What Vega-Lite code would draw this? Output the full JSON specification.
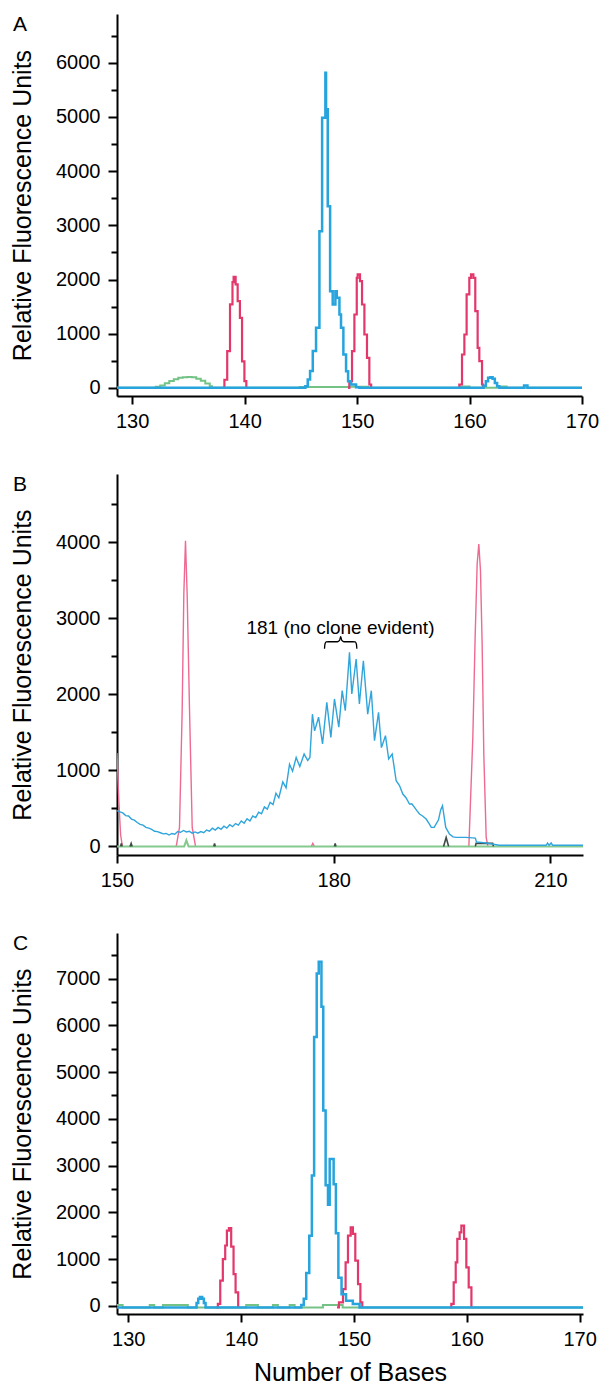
{
  "$schema": "https://vega.github.io/schema/vega-lite/v6.json",
  "padding": {"left": 10, "top": 14, "right": 5, "bottom": 0},
  "background": "white",
  "bounds": "flush",
  "spacing": 78,
  "config": {
    "font": "Liberation Sans",
    "view": {"stroke": null},
    "axis": {"domainColor": "black", "domainWidth": 2, "tickColor": "black", "tickWidth": 2, "labelColor": "black", "labelFont": "Liberation Sans", "labelFontSize": 20, "titleFont": "Liberation Sans", "titleFontSize": 25, "titleFontWeight": "normal", "titleColor": "black", "grid": false, "labelFlush": false, "labelOverlap": false},
    "title": {"font": "Liberation Sans", "fontSize": 21, "fontWeight": "normal", "color": "black", "anchor": "start", "frame": "group", "offset": 0, "baseline": "alphabetic", "dx": -104, "dy": 25}
  },
  "datasets": {
    "A_green": [
      {"x":128.65,"v":0},{"x":132.1,"v":20},{"x":132.5,"v":45},{"x":132.9,"v":85},{"x":133.3,"v":125},{"x":133.7,"v":160},{"x":134.1,"v":185},{"x":134.5,"v":197},{"x":134.9,"v":200},{"x":135.3,"v":195},{"x":135.7,"v":170},{"x":136.1,"v":130},{"x":136.5,"v":80},{"x":136.9,"v":30},{"x":137.1,"v":0},{"x":144.9,"v":15},{"x":149.3,"v":20},{"x":151.0,"v":0},{"x":159.2,"v":25},{"x":160.0,"v":0},{"x":162.5,"v":25},{"x":163.3,"v":0},{"x":170,"v":0}
    ],
    "A_red": [
      {"x":138.05,"v":0,"g":1},{"x":138.2,"v":150,"g":1},{"x":138.45,"v":680,"g":1},{"x":138.7,"v":1540,"g":1},{"x":138.92,"v":1950,"g":1},{"x":139.02,"v":2050,"g":1},{"x":139.2,"v":1910,"g":1},{"x":139.38,"v":1600,"g":1},{"x":139.58,"v":1290,"g":1},{"x":139.77,"v":490,"g":1},{"x":139.98,"v":124,"g":1},{"x":140.15,"v":0,"g":1},
      {"x":149.2,"v":0,"g":2},{"x":149.31,"v":124,"g":2},{"x":149.55,"v":677,"g":2},{"x":149.76,"v":1354,"g":2},{"x":149.97,"v":2031,"g":2},{"x":150.05,"v":2093,"g":2},{"x":150.26,"v":1970,"g":2},{"x":150.44,"v":1539,"g":2},{"x":150.65,"v":985,"g":2},{"x":150.88,"v":554,"g":2},{"x":151.09,"v":62,"g":2},{"x":151.25,"v":0,"g":2},
      {"x":159.0,"v":0,"g":3},{"x":159.09,"v":62,"g":3},{"x":159.33,"v":616,"g":3},{"x":159.54,"v":985,"g":3},{"x":159.74,"v":1724,"g":3},{"x":159.98,"v":2031,"g":3},{"x":160.13,"v":2093,"g":3},{"x":160.34,"v":2031,"g":3},{"x":160.51,"v":1416,"g":3},{"x":160.72,"v":739,"g":3},{"x":160.87,"v":493,"g":3},{"x":161.11,"v":62,"g":3},{"x":161.2,"v":0,"g":3}
    ],
    "A_blue": [
      {"x":128.65,"v":0},{"x":145.4,"v":30},{"x":145.61,"v":155},{"x":145.82,"v":310},{"x":146.06,"v":680},{"x":146.35,"v":1110},{"x":146.65,"v":2890},{"x":146.89,"v":4985},{"x":147.18,"v":5816},{"x":147.24,"v":5140},{"x":147.39,"v":3354},{"x":147.6,"v":1785},{"x":147.83,"v":1540},{"x":148.07,"v":1785},{"x":148.19,"v":1662},{"x":148.43,"v":1355},{"x":148.57,"v":1109},{"x":148.78,"v":616},{"x":149.02,"v":309},{"x":149.2,"v":124},{"x":149.46,"v":62},{"x":149.91,"v":13},{"x":150.2,"v":0},{"x":161.25,"v":40},{"x":161.45,"v":120},{"x":161.65,"v":185},{"x":161.85,"v":197},{"x":162.05,"v":170},{"x":162.25,"v":90},{"x":162.45,"v":30},{"x":162.65,"v":0},{"x":164.85,"v":45},{"x":165.15,"v":0},{"x":170,"v":0}
    ],
    "B_red": [
      {"x":150.0,"v":1230,"g":1},{"x":150.25,"v":600,"g":1},{"x":150.5,"v":150,"g":1},{"x":150.75,"v":0,"g":1},
      {"x":158.2,"v":0,"g":2},{"x":158.65,"v":250,"g":2},{"x":159.02,"v":1785,"g":2},{"x":159.25,"v":3320,"g":2},{"x":159.48,"v":4020,"g":2},{"x":159.71,"v":3320,"g":2},{"x":160.04,"v":1785,"g":2},{"x":160.41,"v":250,"g":2},{"x":160.87,"v":0,"g":2},
      {"x":176.9,"v":0,"g":3},{"x":177.1,"v":40,"g":3},{"x":177.3,"v":0,"g":3},
      {"x":198.7,"v":0,"g":4},{"x":199.25,"v":1434,"g":4},{"x":199.57,"v":2750,"g":4},{"x":199.85,"v":3715,"g":4},{"x":200.08,"v":3978,"g":4},{"x":200.31,"v":3627,"g":4},{"x":200.54,"v":2662,"g":4},{"x":200.77,"v":1215,"g":4},{"x":201.1,"v":118,"g":4},{"x":201.33,"v":0,"g":4}
    ],
    "B_green": [
      {"x":150.0,"v":0},{"x":159.3,"v":0},{"x":159.6,"v":80},{"x":159.9,"v":0},{"x":214.5,"v":0}
    ],
    "B_dark": [
      {"x":150.5,"v":0,"g":1},{"x":150.6,"v":40,"g":1},{"x":150.7,"v":0,"g":1},
      {"x":151.8,"v":0,"g":2},{"x":151.96,"v":40,"g":2},{"x":152.1,"v":0,"g":2},
      {"x":163.4,"v":0,"g":3},{"x":163.5,"v":40,"g":3},{"x":163.6,"v":0,"g":3},
      {"x":180.1,"v":0,"g":4},{"x":180.2,"v":40,"g":4},{"x":180.3,"v":0,"g":4},
      {"x":195.2,"v":0,"g":5},{"x":195.56,"v":118,"g":5},{"x":195.9,"v":0,"g":5},
      {"x":199.6,"v":0,"g":6},{"x":199.7,"v":40,"g":6},{"x":202.0,"v":40,"g":6},{"x":202.1,"v":0,"g":6}
    ],
    "B_blue": [
      {"x":150.0,"v":470},{"x":150.4,"v":455},{"x":150.8,"v":440},{"x":151.2,"v":405},{"x":151.6,"v":400},{"x":152.0,"v":360},{"x":152.4,"v":345},{"x":152.8,"v":315},{"x":153.2,"v":290},{"x":153.6,"v":280},{"x":154.0,"v":250},{"x":154.4,"v":240},{"x":154.8,"v":225},{"x":155.2,"v":200},{"x":155.6,"v":195},{"x":156.0,"v":180},{"x":156.4,"v":165},{"x":156.8,"v":170},{"x":157.2,"v":150},{"x":157.6,"v":170},{"x":158.0,"v":160},{"x":158.4,"v":195},{"x":158.8,"v":185},{"x":159.2,"v":210},{"x":159.6,"v":190},{"x":160.0,"v":200},{"x":160.4,"v":175},{"x":160.8,"v":190},{"x":161.2,"v":175},{"x":161.6,"v":195},{"x":162.0,"v":180},{"x":162.4,"v":215},{"x":162.8,"v":200},{"x":163.2,"v":240},{"x":163.6,"v":215},{"x":164.0,"v":250},{"x":164.4,"v":225},{"x":164.8,"v":265},{"x":165.2,"v":240},{"x":165.6,"v":285},{"x":166.0,"v":260},{"x":166.4,"v":300},{"x":166.8,"v":280},{"x":167.2,"v":335},{"x":167.6,"v":305},{"x":168.0,"v":365},{"x":168.4,"v":335},{"x":168.8,"v":400},{"x":169.2,"v":380},{"x":169.6,"v":450},{"x":170.0,"v":430},{"x":170.4,"v":520},{"x":170.8,"v":490},{"x":171.2,"v":580},{"x":171.6,"v":550},{"x":172.0,"v":700},{"x":172.4,"v":640},{"x":172.95,"v":850},{"x":173.4,"v":770},{"x":173.88,"v":1080},{"x":174.3,"v":990},{"x":174.8,"v":1170},{"x":175.3,"v":1050},{"x":175.9,"v":1215},{"x":176.4,"v":1130},{"x":176.7,"v":1170},{"x":177.05,"v":1740},{"x":177.35,"v":1520},{"x":177.9,"v":1700},{"x":178.45,"v":1350},{"x":179.04,"v":1895},{"x":179.6,"v":1435},{"x":180.1,"v":1940},{"x":180.7,"v":1570},{"x":181.17,"v":2050},{"x":181.6,"v":1785},{"x":182.18,"v":2553},{"x":182.5,"v":2005},{"x":183.1,"v":2465},{"x":183.55,"v":1873},{"x":184.1,"v":2443},{"x":184.7,"v":1741},{"x":185.2,"v":2049},{"x":185.64,"v":1391},{"x":186.2,"v":1764},{"x":186.6,"v":1300},{"x":187.16,"v":1457},{"x":187.6,"v":1150},{"x":188.09,"v":1216},{"x":188.64,"v":864},{"x":189.1,"v":800},{"x":189.56,"v":689},{"x":190.0,"v":640},{"x":190.48,"v":557},{"x":190.8,"v":560},{"x":191.18,"v":513},{"x":191.5,"v":470},{"x":191.87,"v":426},{"x":192.3,"v":400},{"x":192.79,"v":360},{"x":193.2,"v":300},{"x":193.5,"v":250},{"x":193.9,"v":250},{"x":194.5,"v":350},{"x":194.8,"v":480},{"x":195.05,"v":535},{"x":195.3,"v":380},{"x":195.5,"v":250},{"x":196.02,"v":163},{"x":196.5,"v":125},{"x":196.95,"v":119},{"x":198.3,"v":119},{"x":199.6,"v":110},{"x":199.75,"v":60},{"x":201.1,"v":45},{"x":202.9,"v":15},{"x":209.4,"v":15},{"x":209.6,"v":45},{"x":209.8,"v":15},{"x":210.1,"v":45},{"x":210.3,"v":15},{"x":214.5,"v":15}
    ],
    "B_brace": [
      {"x":178.72,"v":2600},{"x":178.78,"v":2660},{"x":178.95,"v":2690},{"x":179.3,"v":2693},{"x":180.5,"v":2693},{"x":180.8,"v":2710},{"x":180.96,"v":2760},{"x":181.12,"v":2710},{"x":181.42,"v":2693},{"x":182.6,"v":2693},{"x":182.97,"v":2690},{"x":183.14,"v":2660},{"x":183.2,"v":2600}
    ],
    "B_text": [
      {"x":180.93,"v":2880,"label":"181 (no clone evident)"}
    ],
    "C_green": [
      {"x":129.0,"v":15},{"x":129.5,"v":-35},{"x":131.9,"v":15},{"x":132.3,"v":-35},{"x":133.07,"v":15},{"x":135.28,"v":-35},{"x":140.45,"v":15},{"x":141.49,"v":-35},{"x":142.82,"v":15},{"x":143.26,"v":-35},{"x":144.3,"v":15},{"x":144.74,"v":-35},{"x":147.25,"v":15},{"x":149.0,"v":-35},{"x":170.3,"v":-35}
    ],
    "C_red": [
      {"x":137.8,"v":-35,"g":1},{"x":137.94,"v":40,"g":1},{"x":138.15,"v":540,"g":1},{"x":138.38,"v":1000,"g":1},{"x":138.59,"v":1290,"g":1},{"x":138.74,"v":1610,"g":1},{"x":138.92,"v":1665,"g":1},{"x":139.12,"v":1265,"g":1},{"x":139.33,"v":680,"g":1},{"x":139.51,"v":286,"g":1},{"x":139.74,"v":-35,"g":1},
      {"x":148.5,"v":-35,"g":2},{"x":148.67,"v":72,"g":2},{"x":149.03,"v":358,"g":2},{"x":149.26,"v":930,"g":2},{"x":149.47,"v":1500,"g":2},{"x":149.71,"v":1680,"g":2},{"x":149.91,"v":1537,"g":2},{"x":150.12,"v":965,"g":2},{"x":150.36,"v":465,"g":2},{"x":150.57,"v":72,"g":2},{"x":150.74,"v":-35,"g":2},
      {"x":158.5,"v":-35,"g":3},{"x":158.63,"v":40,"g":3},{"x":158.84,"v":501,"g":3},{"x":159.02,"v":930,"g":3},{"x":159.16,"v":1430,"g":3},{"x":159.37,"v":1572,"g":3},{"x":159.52,"v":1715,"g":3},{"x":159.76,"v":1430,"g":3},{"x":159.96,"v":822,"g":3},{"x":160.17,"v":393,"g":3},{"x":160.41,"v":-35,"g":3}
    ],
    "C_blue": [
      {"x":129.0,"v":-35},{"x":136.05,"v":60},{"x":136.2,"v":150},{"x":136.35,"v":190},{"x":136.55,"v":150},{"x":136.7,"v":60},{"x":136.85,"v":-35},{"x":145.33,"v":20},{"x":145.55,"v":150},{"x":145.77,"v":700},{"x":146.04,"v":1500},{"x":146.27,"v":2790},{"x":146.47,"v":5750},{"x":146.7,"v":7110},{"x":146.88,"v":7360},{"x":147.12,"v":6395},{"x":147.28,"v":4180},{"x":147.49,"v":2580},{"x":147.7,"v":2160},{"x":147.85,"v":3140},{"x":148.2,"v":2600},{"x":148.4,"v":1550},{"x":148.62,"v":600},{"x":148.9,"v":250},{"x":149.3,"v":110},{"x":149.9,"v":40},{"x":150.5,"v":-35},{"x":170.3,"v":-35}
    ]
  },
  "vconcat": [
    {
      "title": {"text": "A"},
      "width": 465,
      "height": 382,
      "encoding": {
        "x": {"field": "x", "type": "quantitative", "scale": {"domain": [128.65, 170], "nice": false, "zero": false}, "axis": {"values": [130, 140, 150, 160, 170], "title": null, "tickSize": 8, "labelPadding": 7}},
        "y": {"field": "v", "type": "quantitative", "scale": {"domain": [-150, 6900], "nice": false, "zero": false}, "axis": {"values": [0, 500, 1000, 1500, 2000, 2500, 3000, 3500, 4000, 4500, 5000, 5500, 6000, 6500], "format": "d", "title": "Relative Fluorescence Units", "tickSize": {"condition": {"test": "datum.value % 1000 === 0", "value": 9}, "value": 6}, "labelExpr": "datum.value % 1000 === 0 ? datum.label : ''", "labelPadding": 8, "titlePadding": 20}}
      },
      "layer": [
        {"data": {"name": "A_green"}, "mark": {"type": "line", "interpolate": "step-after", "color": "#74c285", "strokeWidth": 2, "clip": true}},
        {"data": {"name": "A_red"}, "mark": {"type": "line", "interpolate": "step-after", "color": "#e2386c", "strokeWidth": 2.2, "clip": true}, "encoding": {"detail": {"field": "g"}}},
        {"data": {"name": "A_blue"}, "mark": {"type": "line", "interpolate": "step-after", "color": "#27a4dd", "strokeWidth": 2.5, "clip": true}}
      ]
    },
    {
      "title": {"text": "B"},
      "width": 466,
      "height": 381,
      "encoding": {
        "x": {"field": "x", "type": "quantitative", "scale": {"domain": [150, 214.5], "nice": false, "zero": false}, "axis": {"values": [150, 180, 210], "title": null, "tickSize": 8, "labelPadding": 7}},
        "y": {"field": "v", "type": "quantitative", "scale": {"domain": [-113, 4900], "nice": false, "zero": false}, "axis": {"values": [0, 500, 1000, 1500, 2000, 2500, 3000, 3500, 4000, 4500], "format": "d", "title": "Relative Fluorescence Units", "tickSize": {"condition": {"test": "datum.value % 1000 === 0", "value": 9}, "value": 6}, "labelExpr": "datum.value % 1000 === 0 ? datum.label : ''", "labelPadding": 8, "titlePadding": 20}}
      },
      "layer": [
        {"data": {"name": "B_red"}, "mark": {"type": "line", "color": "#ee6a92", "strokeWidth": 1.4, "clip": true}, "encoding": {"detail": {"field": "g"}}},
        {"data": {"name": "B_green"}, "mark": {"type": "line", "color": "#86c98f", "strokeWidth": 2, "clip": true}},
        {"data": {"name": "B_dark"}, "mark": {"type": "line", "color": "#3d4a45", "strokeWidth": 1.6, "clip": true}, "encoding": {"detail": {"field": "g"}}},
        {"data": {"name": "B_blue"}, "mark": {"type": "line", "color": "#2fa5dc", "strokeWidth": 1.4, "clip": true}},
        {"data": {"name": "B_brace"}, "mark": {"type": "line", "interpolate": "monotone", "color": "black", "strokeWidth": 1.3}},
        {"data": {"name": "B_text"}, "mark": {"type": "text", "font": "Liberation Sans", "fontSize": 19, "color": "black", "align": "center", "baseline": "middle"}, "encoding": {"text": {"field": "label"}}}
      ]
    },
    {
      "title": {"text": "C"},
      "width": 466,
      "height": 381,
      "encoding": {
        "x": {"field": "x", "type": "quantitative", "scale": {"domain": [129.0, 170.3], "nice": false, "zero": false}, "axis": {"values": [130, 140, 150, 160, 170], "title": "Number of Bases", "titlePadding": 11, "tickSize": 8, "labelPadding": 7}},
        "y": {"field": "v", "type": "quantitative", "scale": {"domain": [-175, 7975], "nice": false, "zero": false}, "axis": {"values": [0, 500, 1000, 1500, 2000, 2500, 3000, 3500, 4000, 4500, 5000, 5500, 6000, 6500, 7000, 7500], "format": "d", "title": "Relative Fluorescence Units", "tickSize": {"condition": {"test": "datum.value % 1000 === 0", "value": 9}, "value": 6}, "labelExpr": "datum.value % 1000 === 0 ? datum.label : ''", "labelPadding": 8, "titlePadding": 20}}
      },
      "layer": [
        {"data": {"name": "C_green"}, "mark": {"type": "line", "interpolate": "step-after", "color": "#74c285", "strokeWidth": 2, "clip": true}},
        {"data": {"name": "C_red"}, "mark": {"type": "line", "interpolate": "step-after", "color": "#e2386c", "strokeWidth": 2.2, "clip": true}, "encoding": {"detail": {"field": "g"}}},
        {"data": {"name": "C_blue"}, "mark": {"type": "line", "interpolate": "step-after", "color": "#27a4dd", "strokeWidth": 2.5, "clip": true}}
      ]
    }
  ]
}
